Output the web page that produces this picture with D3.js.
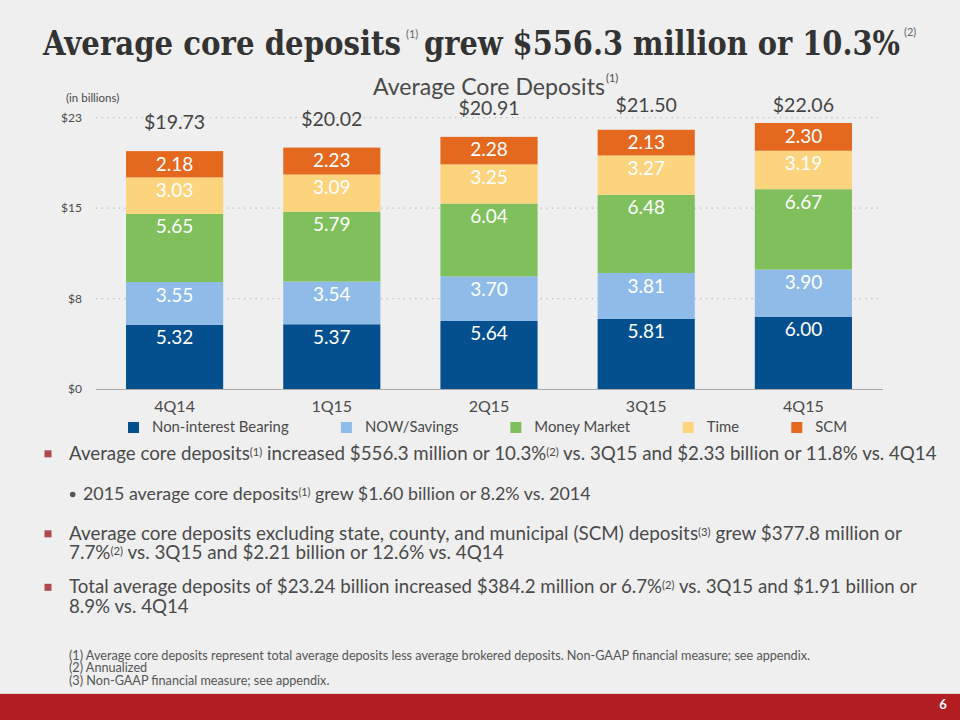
<!DOCTYPE html>
<html><head><meta charset="utf-8">
<script src="https://cdn.jsdelivr.net/npm/d3@7/dist/d3.min.js"></script>
<style>body{margin:0;background:#efefef;} svg{display:block}</style>
</head><body><svg id="c" width="960" height="720"></svg>
<script>
// ---------- data ----------
const categories = ["4Q14","1Q15","2Q15","3Q15","4Q15"];
const seriesNames = ["Non-interest Bearing","NOW/Savings","Money Market","Time","SCM"];
const nonInterestBearing = [5.32,5.37,5.64,5.81,6.00];
const nowSavings = [3.55,3.54,3.70,3.81,3.90];
const moneyMarket = [5.65,5.79,6.04,6.48,6.67];
const timeDeposits = [3.03,3.09,3.25,3.27,3.19];
const scm = [2.18,2.23,2.28,2.13,2.30];
const totals = [19.73,20.02,20.91,21.50,22.06];
const yTicks = [0,7.5,15,22.5];
const colors = ["#04508f","#8fbbe8","#7fbf5c","#fdd47e","#e4691f"];

const seriesValues = [nonInterestBearing, nowSavings, moneyMarket, timeDeposits, scm];
const table = categories.map((c,i)=>{
  const o = {cat:c, total:totals[i]};
  seriesNames.forEach((s,j)=>o[s]=seriesValues[j][i]);
  return o;
});

const FONT = "Lato, 'Open Sans', sans-serif";
const TXT = "#4a4a4a";
const svg = d3.select("#c");

svg.append("rect").attr("width",960).attr("height",720).attr("fill","#efefef");

// ---------- title ----------
const SERIF = "'DejaVu Serif Condensed','DejaVu Serif','Liberation Serif',serif";
svg.append("text").attr("x",43).attr("y",55).attr("font-family",SERIF).attr("font-weight","bold")
  .attr("font-size",34).attr("fill","#333").attr("textLength",358).attr("lengthAdjust","spacingAndGlyphs")
  .text("Average core deposits");
svg.append("text").attr("x",406).attr("y",38).attr("font-family",FONT).attr("font-size",11).attr("fill","#666").text("(1)");
svg.append("text").attr("x",424).attr("y",55).attr("font-family",SERIF).attr("font-weight","bold")
  .attr("font-size",34).attr("fill","#333").attr("textLength",476).attr("lengthAdjust","spacingAndGlyphs")
  .text("grew $556.3 million or 10.3%");
svg.append("text").attr("x",904).attr("y",36).attr("font-family",FONT).attr("font-size",11).attr("fill","#666").text("(2)");

// ---------- helpers ----------
function drawLine(g, x, y, segs, size, fill){
  const t = g.append("text").attr("x",x).attr("y",y).attr("font-family",FONT)
     .attr("font-size",size).attr("fill",fill||TXT);
  let raised = false;
  segs.forEach(s=>{
    const sp = t.append("tspan");
    if (s.sup){
      sp.attr("font-size",size*0.6).attr("dy",-size*0.2);
      raised = true;
    } else if (raised){
      sp.attr("dy",size*0.2); raised=false;
    }
    sp.text(s.t);
  });
  return t;
}
function fitSize(g, segs, base, target){
  const t = drawLine(g,0,-100,segs,base);
  const w = t.node().getBBox().width;
  t.remove();
  return base*target/w;
}

// ---------- chart ----------
const x = d3.scaleBand().domain(categories).range([96,882]).paddingInner(0.382).paddingOuter(0.191);
const y = d3.scaleLinear().domain([0,22.5]).range([389,117.7]);

const chart = svg.append("g");
const ctSize = fitSize(chart, [{t:"Average Core Deposits"}], 20, 232);
chart.append("text").attr("x",373).attr("y",95).attr("font-family",FONT).attr("font-size",ctSize)
  .attr("fill","#4a4a4a").text("Average Core Deposits");
chart.append("text").attr("x",606).attr("y",82).attr("font-family",FONT).attr("font-size",11)
  .attr("fill","#4a4a4a").text("(1)");

chart.append("text").attr("x",66).attr("y",102).attr("font-family",FONT).attr("font-size",11.5)
  .attr("fill",TXT).text("(in billions)");

// grid
chart.append("g").selectAll("line").data(yTicks.filter(d=>d>0)).join("line")
  .attr("x1",96).attr("x2",882).attr("y1",d=>y(d)).attr("y2",d=>y(d))
  .attr("stroke","#bbb").attr("stroke-width",1.2).attr("stroke-dasharray","1.2,4.5");

// y axis labels
const yAxis = d3.axisLeft(y).tickValues(yTicks).tickFormat(d=>"$"+d.toFixed(0)).tickSize(0).tickPadding(0);
const ya = chart.append("g").attr("transform","translate(82,0)").call(yAxis);
ya.select(".domain").remove();
ya.selectAll("text").attr("font-family",FONT).attr("font-size",12).attr("fill",TXT);

// stacks
const stack = d3.stack().keys(seriesNames)(table);
const layers = chart.append("g").selectAll("g").data(stack).join("g").attr("fill",(d,i)=>colors[i]);
layers.selectAll("rect").data(d=>d).join("rect")
  .attr("x",d=>x(d.data.cat)).attr("width",x.bandwidth())
  .attr("y",d=>y(d[1])).attr("height",d=>y(d[0])-y(d[1]));
// segment labels
const labG = chart.append("g");
stack.forEach((layer,li)=>{
  layer.forEach(d=>{
    labG.append("text").attr("x",x(d.data.cat)+x.bandwidth()/2).attr("y",y(d[1])+19.5)
      .attr("text-anchor","middle").attr("font-family",FONT).attr("font-size",19)
      .attr("fill","#fff").text((d[1]-d[0]).toFixed(2));
  });
});
// totals
chart.append("g").selectAll("text").data(table).join("text")
  .attr("x",d=>x(d.cat)+x.bandwidth()/2).attr("y",d=>Math.max(y(d.total)-22,112))
  .attr("text-anchor","middle").attr("font-family",FONT).attr("font-size",19.5).attr("fill","#444")
  .text(d=>"$"+d.total.toFixed(2));

// baseline
chart.append("line").attr("x1",96).attr("x2",883).attr("y1",y(0)+0.5).attr("y2",y(0)+0.5)
  .attr("stroke","#aaa").attr("stroke-width",1.2);

// x axis
const xAxis = d3.axisBottom(x).tickSize(0).tickPadding(0);
const xa = chart.append("g").attr("transform","translate(0,401)").call(xAxis);
xa.select(".domain").remove();
xa.selectAll("text").attr("font-family",FONT).attr("font-size",16).attr("fill",TXT).attr("dy","0.71em");

// legend
const lg = chart.append("g");
const lgSize = fitSize(lg,[{t:seriesNames[0]}],15,137);
let lx = 128;
seriesNames.forEach((s,i)=>{
  lg.append("rect").attr("x",lx).attr("y",422).attr("width",11).attr("height",11).attr("fill",colors[i]);
  const t = lg.append("text").attr("x",lx+24).attr("y",432).attr("font-family",FONT)
    .attr("font-size",lgSize).attr("fill",TXT).text(s);
  lx += 24 + t.node().getBBox().width + 52;
});

// ---------- bullets ----------
const bg = svg.append("g");
const b1 = [{t:"Average core deposits"},{t:"(1)",sup:true},{t:" increased $556.3 million or 10.3%"},{t:"(2)",sup:true},{t:" vs. 3Q15 and $2.33 billion or 11.8% vs. 4Q14"}];
const sb = [{t:"2015 average core deposits"},{t:"(1)",sup:true},{t:" grew $1.60 billion or 8.2% vs. 2014"}];
const b3a = [{t:"Average core deposits excluding state, county, and municipal (SCM) deposits"},{t:"(3)",sup:true},{t:" grew $377.8 million or"}];
const b3b = [{t:"7.7%"},{t:"(2)",sup:true},{t:" vs. 3Q15 and $2.21 billion or 12.6% vs. 4Q14"}];
const b4a = [{t:"Total average deposits of $23.24 billion increased $384.2 million or 6.7%"},{t:"(2)",sup:true},{t:" vs. 3Q15 and $1.91 billion or"}];
const b4b = [{t:"8.9% vs. 4Q14"}];

function square(yc){
  bg.append("rect").attr("x",44.5).attr("y",yc-3.7).attr("width",7).attr("height",7).attr("fill","#b0484a");
}
let s1 = fitSize(bg,b1,17,868);
drawLine(bg,69,459.5,b1,s1); square(454);
let s2 = fitSize(bg,sb,15.5,508);
drawLine(bg,83,500,sb,s2);
bg.append("circle").attr("cx",72.7).attr("cy",494.5).attr("r",2.8).attr("fill","#555");
let s3 = fitSize(bg,b3a,17,834);
drawLine(bg,69,539.5,b3a,s3); drawLine(bg,69,559,b3b,s3); square(534);
let s4 = fitSize(bg,b4a,17,849);
drawLine(bg,69,593,b4a,s4); drawLine(bg,69,612.5,b4b,s4); square(587.5);

// footnotes
const f1 = [{t:"(1) Average core deposits represent total average deposits less average brokered deposits.  Non-GAAP financial measure; see appendix."}];
const fs = fitSize(bg,f1,11,742);
drawLine(bg,69,659.5,f1,fs,"#555");
drawLine(bg,69,672.2,[{t:"(2) Annualized"}],fs,"#555");
drawLine(bg,69,684.9,[{t:"(3) Non-GAAP financial measure; see appendix."}],fs,"#555");

// footer
svg.append("rect").attr("x",0).attr("y",693).attr("width",960).attr("height",27).attr("fill","#b21d21");
svg.append("line").attr("x1",0).attr("x2",960).attr("y1",693.5).attr("y2",693.5).attr("stroke","#e9d3d3").attr("stroke-width",1);
svg.append("text").attr("x",943).attr("y",709).attr("text-anchor","middle").attr("font-family",FONT)
  .attr("font-weight","bold").attr("font-size",13).attr("fill","#fff").text("6");
</script></body></html>
